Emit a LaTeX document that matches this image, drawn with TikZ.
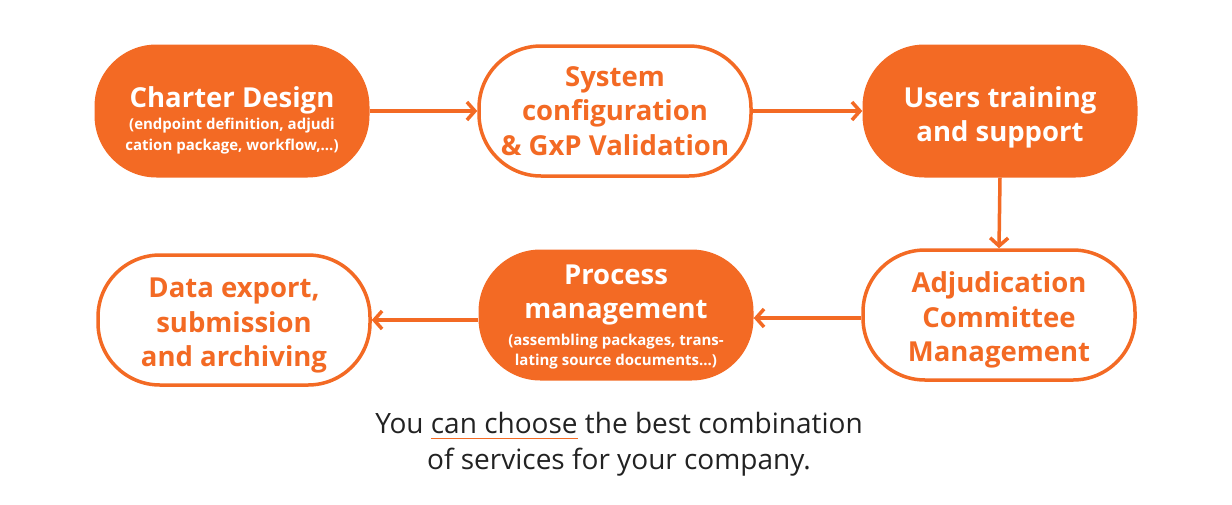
\documentclass[tikz,border=0pt]{standalone}
\usepackage{fontspec}
\setmainfont{Open Sans}
\usetikzlibrary{arrows.meta}
\definecolor{orng}{HTML}{F36A24}
\definecolor{txtdark}{HTML}{222222}
\newcommand\orul[1]{\setbox0\hbox{#1}\rlap{\color{orng}\rule[-6pt]{\wd0}{1.2pt}}\box0\relax}
\newcommand\bigt{\fontsize{27.5}{34.5}\selectfont\bfseries}
\newcommand\smallt{\fontsize{15}{19}\selectfont\bfseries}
\newcommand\topstrut[1]{\rule{0pt}{#1}}
\tikzset{
  box/.style={minimum width=275pt, minimum height=133pt, rounded corners=62pt, align=center, inner sep=0pt},
  filledbox/.style={box, fill=orng, text=white},
  openbox/.style={box, draw=orng, line width=3.5pt, fill=white, text=orng, minimum width=272pt, minimum height=130pt},
  ttl/.style={font=\bigt},
  flow/.style={draw=orng, line width=3.5pt, -{Straight Barb[length=8pt,width=18pt,line width=3.5pt]}}
}
\begin{document}
\begin{tikzpicture}[x=1pt,y=-1pt]
\useasboundingbox (0,0) rectangle (1232,504);
\node[filledbox, font=\bigt] (cd) at (232,111) {\topstrut{39pt}Charter Design\\[-12pt]\smallt (endpoint definition, adjudi\\[-14pt]\smallt cation package, workflow,...)};
\node[openbox, ttl] (sc) at (615,111) {System\\configuration\\\& GxP Validation};
\node[filledbox, ttl] (ut) at (1000,111) {\topstrut{34pt}Users training\\and support};
\node[openbox, ttl] (ac) at (999,315) {\topstrut{31pt}Adjudication\\Committee\\Management};
\node[filledbox, font=\bigt, minimum height=131pt] (pm) at (616,315) {\topstrut{24pt}Process\\management\\[-8pt]\smallt (assembling packages, trans-\\[-14pt]\smallt lating source documents...)};
\node[openbox, ttl] (de) at (234,320) {\topstrut{31pt}Data export,\\submission\\and archiving};
\node[align=center, text=txtdark, font=\fontsize{28}{36}\selectfont] (ft) at (619,444) {You \orul{can choose} the best combination\\of services for your company.};
\draw[flow] (cd.east) -- (sc.west);
\draw[flow] (sc.east) -- (ut.west);
\draw[flow] (ut.south) -- (ac.north);
\draw[flow] (ac.west |- 0,318) -- (pm.east |- 0,318);
\draw[flow] (pm.west |- 0,320) -- (de.east |- 0,320);
\end{tikzpicture}
\end{document}
